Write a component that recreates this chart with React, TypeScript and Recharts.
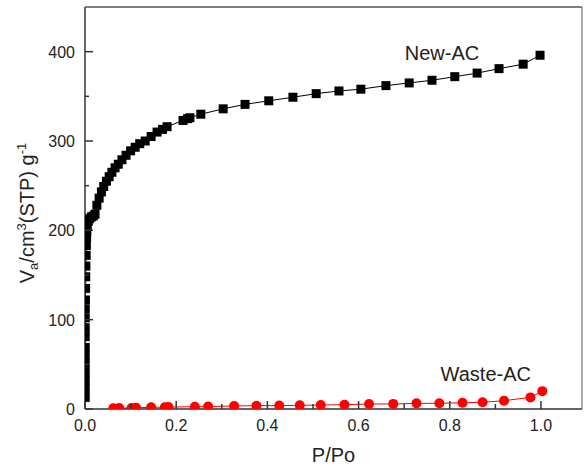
import React from 'react';
import { ComposedChart, Line, XAxis, YAxis, ReferenceLine, ReferenceDot } from 'recharts';

const newAcX = [
  0.0005, 0.0005, 0.0005, 0.0005, 0.0005, 0.0005, 0.0005, 0.0005, 0.0005, 0.0005, 0.0006,
  0.001, 0.0013, 0.0016, 0.002, 0.0025, 0.003, 0.0035, 0.004, 0.005, 0.007, 0.01, 0.014, 0.018, 0.022,
  0.026, 0.031, 0.036, 0.041, 0.047, 0.053, 0.059, 0.066, 0.073, 0.081, 0.09, 0.1, 0.11, 0.12,
  0.132, 0.145, 0.158, 0.17, 0.18, 0.215, 0.225, 0.23, 0.254, 0.303, 0.351, 0.403, 0.456, 0.507,
  0.557, 0.605, 0.66, 0.711, 0.761, 0.811, 0.86, 0.908, 0.961, 0.998,
];
const newAcY = [
  13, 23, 32, 41, 51, 60, 69, 81, 91, 102, 112,
  122, 135, 148, 160, 172, 183, 192, 199, 205, 210, 213, 215, 216, 218,
  228, 236, 243, 249, 255, 260, 265, 270, 274, 279, 284, 289, 293, 297,
  300, 305, 310, 313, 316, 323, 325, 326, 330, 336, 341, 345, 349, 353,
  356, 358, 362, 365, 368, 372, 376, 381, 386, 396,
];
const wasteAcX = [
  0.062, 0.075, 0.102, 0.112, 0.145, 0.175, 0.183, 0.241, 0.27, 0.327, 0.376, 0.426,
  0.471, 0.517, 0.569, 0.623, 0.676, 0.727, 0.777, 0.828, 0.872, 0.919, 0.977, 1.003,
];
const wasteAcY = [
  0.8, 1, 1.2, 1.3, 2, 2, 2.1, 2.6, 2.7, 3.4, 3.7, 3.8,
  4.1, 4.5, 4.8, 5.6, 5.7, 6.3, 6.4, 7, 7.5, 9.3, 13, 20,
];
const xTicks = [0, 0.1, 0.2, 0.3, 0.4, 0.5, 0.6, 0.7, 0.8, 0.9, 1.0];
const yTicks = [0, 50, 100, 150, 200, 250, 300, 350, 400];
const xDomain = [0, 1.09];
const yDomain = [0, 450];

const newAcData = newAcX.map((x, i) => ({ x, y: newAcY[i] }));
const wasteAcData = wasteAcX.map((x, i) => ({ x, y: wasteAcY[i] }));

const FONT = '"Liberation Sans", Arial, sans-serif';
const AXIS = '#333';
const TXT = '#222';

const SquareDot = (props: any) => {
  const { cx, cy, key } = props;
  if (cx == null || cy == null) return <g key={key} />;
  return <rect key={key} x={cx - 4.5} y={cy - 4.5} width={9} height={9} fill="#000" />;
};

const XTick = (props: any) => {
  const { x, y, payload } = props;
  const v = payload.value;
  const major = Math.round(v * 10) % 2 === 0;
  return (
    <g>
      <line x1={x} y1={y} x2={x} y2={y - (major ? 8 : 5)} stroke={AXIS} strokeWidth={1.5} />
      {major && (
        <text x={x} y={y + 22} textAnchor="middle" fontSize={16} fontFamily={FONT} fill={TXT}>
          {v.toFixed(1)}
        </text>
      )}
    </g>
  );
};

const YTick = (props: any) => {
  const { x, y, payload } = props;
  const v = payload.value;
  const major = v % 100 === 0;
  return (
    <g>
      <line x1={x} y1={y} x2={x + (major ? 8 : 4)} y2={y} stroke={AXIS} strokeWidth={1.5} />
      {major && (
        <text x={x - 10} y={y + 6} textAnchor="end" fontSize={16} fontFamily={FONT} fill={TXT}>
          {v}
        </text>
      )}
    </g>
  );
};

const YLabel = (props: any) => {
  const vb = props.viewBox;
  const cx = vb.x + 34;
  const cy = vb.y + vb.height / 2 + 5;
  return (
    <text
      x={cx}
      y={cy}
      transform={`rotate(-90 ${cx} ${cy})`}
      textAnchor="middle"
      fontSize={20}
      fontFamily={FONT}
      fill={TXT}
    >
      <tspan>V</tspan>
      <tspan fontSize={13} dy={4}>a</tspan>
      <tspan dy={-4}>/cm</tspan>
      <tspan fontSize={13} dy={-8}>3</tspan>
      <tspan dy={8}>(STP) g</tspan>
      <tspan fontSize={13} dy={-8}>-1</tspan>
    </text>
  );
};

const XLabel = (props: any) => {
  const vb = props.viewBox;
  return (
    <text x={vb.x + vb.width / 2} y={vb.y + 53} textAnchor="middle" fontSize={20} fontFamily={FONT} fill={TXT}>
      P/Po
    </text>
  );
};

const Annot = (text: string) => (props: any) => {
  const vb = props.viewBox;
  const cx = vb.x + vb.width / 2;
  const cy = vb.y + vb.height / 2;
  return (
    <text x={cx} y={cy + 7} textAnchor="middle" fontSize={20} fontFamily={FONT} fill={TXT}>
      {text}
    </text>
  );
};

export default function App() {
  return (
    <div style={{ position: 'absolute', left: 0, top: 0, width: 587, height: 468, background: '#fff' }}>
      <ComposedChart width={587} height={468} margin={{ top: 7, right: 5, bottom: 0, left: 0 }}>
        <XAxis
          dataKey="x"
          type="number"
          domain={xDomain}
          ticks={xTicks}
          allowDataOverflow
          tickSize={0}
          tickMargin={0}
          height={59}
          tick={<XTick />}
          tickLine={false}
          axisLine={{ stroke: AXIS, strokeWidth: 1.5 }}
          label={<XLabel />}
        />
        <YAxis
          dataKey="y"
          type="number"
          domain={yDomain}
          ticks={yTicks}
          allowDataOverflow
          tickSize={0}
          tickMargin={0}
          width={85}
          tick={<YTick />}
          tickLine={false}
          axisLine={{ stroke: AXIS, strokeWidth: 1.5 }}
          label={<YLabel />}
        />
        <ReferenceLine y={450} stroke="#555" strokeWidth={1.5} />
        <ReferenceLine x={1.09} stroke="#777" strokeWidth={1.2} />
        <Line
          data={newAcData}
          dataKey="y"
          type="linear"
          stroke="#000"
          strokeWidth={1}
          dot={SquareDot}
          isAnimationActive={false}
        />
        <Line
          data={wasteAcData}
          dataKey="y"
          type="linear"
          stroke="#ff0000"
          strokeWidth={1}
          dot={{ r: 5, fill: '#ff0000', stroke: '#ff0000', strokeWidth: 0 }}
          isAnimationActive={false}
        />
        <ReferenceDot x={0.783} y={398} r={0} stroke="none" fill="none" label={Annot('New-AC')} />
        <ReferenceDot x={0.879} y={39} r={0} stroke="none" fill="none" label={Annot('Waste-AC')} />
      </ComposedChart>
    </div>
  );
}
